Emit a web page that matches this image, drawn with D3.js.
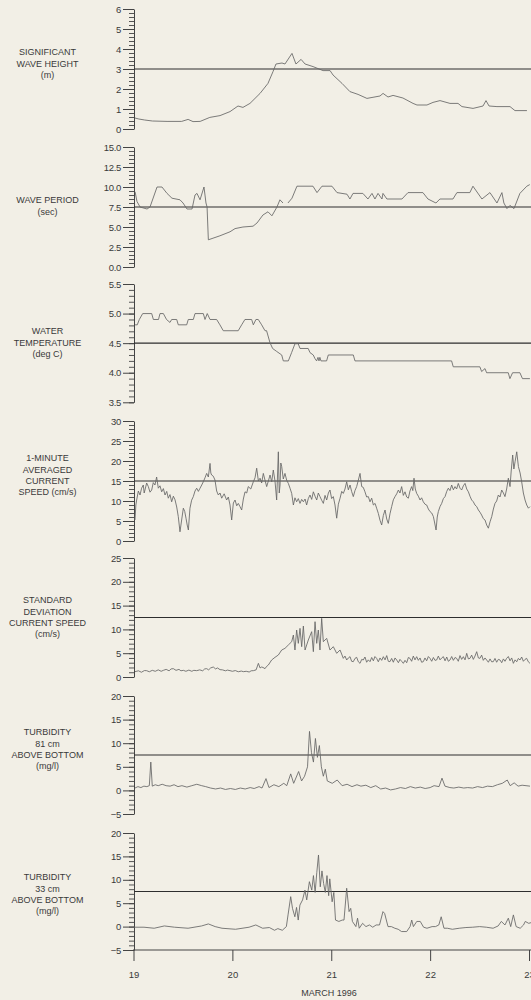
<!DOCTYPE html>
<html>
<head>
<meta charset="UTF-8">
<script src="https://cdnjs.cloudflare.com/ajax/libs/d3/7.8.5/d3.min.js"></script>
<style>
  body { margin: 0; background: #f2efe6; }
  svg { display: block; }
  text { font-family: "Liberation Sans", Arial, sans-serif; fill: #3a3a3a; }
</style>
</head>
<body>
<svg></svg>
<script>
var width = 531, height = 1000;

// ---- data: [day of March 1996, value]

var waveHeight = [[19.015,0.55],[19.054,0.5],[19.113,0.45],[19.192,0.4],[19.339,0.38],[19.487,0.38],[19.552,0.48],
  [19.602,0.37],[19.674,0.38],[19.772,0.58],[19.875,0.67],[19.976,0.87],[20.057,1.15],[20.107,1.08],[20.178,1.28],
  [20.28,1.78],[20.36,2.28],[20.411,2.87],[20.441,3.25],[20.502,3.3],[20.532,3.25],[20.603,3.78],[20.643,3.25],
  [20.695,3.48],[20.735,3.25],[20.816,3.12],[20.917,2.92],[20.988,2.92],[21.018,2.7],[21.109,2.28],[21.189,1.87],
  [21.271,1.73],[21.361,1.53],[21.493,1.65],[21.524,1.78],[21.574,1.6],[21.625,1.68],[21.725,1.55],[21.827,1.28],
  [21.867,1.2],[21.968,1.2],[22.029,1.33],[22.1,1.42],[22.201,1.28],[22.282,1.28],[22.322,1.12],[22.434,1.03],
  [22.535,1.15],[22.565,1.42],[22.596,1.15],[22.676,1.12],[22.808,1.12],[22.858,0.92],[22.979,0.92]];

var wavePeriod = [[19.016,9.4],[19.035,8.2],[19.066,7.5],[19.137,7.25],[19.167,7.5],[19.238,10.0],[19.288,10.0],
  [19.339,9.2],[19.389,8.6],[19.47,8.4],[19.501,8.0],[19.541,7.25],[19.592,7.25],[19.622,9.0],[19.642,9.2],[19.673,8.4],
  [19.713,10.0],[19.733,8.0],[19.744,7.5],[19.757,3.4],[19.804,3.6],[19.874,3.9],[19.976,4.4],[20.027,4.8],[20.107,5.0],
  [20.209,5.1],[20.249,5.5],[20.309,6.5],[20.36,6.9],[20.4,6.4],[20.451,7.5],[20.481,8.4],[20.512,8.0],[20.53,null],
  [20.562,8.0],[20.603,8.6],[20.653,10.1],[20.815,10.1],[20.856,9.3],[20.906,10.1],[21.007,10.1],[21.058,9.3],
  [21.159,9.1],[21.189,8.5],[21.22,9.2],[21.32,9.2],[21.371,8.5],[21.412,9.2],[21.442,8.5],[21.473,9.2],[21.513,8.5],
  [21.523,9.2],[21.563,8.5],[21.715,8.5],[21.776,9.3],[21.927,9.3],[21.978,8.5],[22.059,8.0],[22.099,8.5],[22.231,8.5],
  [22.271,9.3],[22.402,9.3],[22.433,10.1],[22.524,8.5],[22.605,9.3],[22.676,8.0],[22.726,9.3],[22.746,8.0],[22.777,7.3],
  [22.807,7.7],[22.848,7.3],[22.908,9.2],[22.978,10.1],[23.008,10.3]];

var waterTemp = [[19.016,4.81],[19.038,4.81],[19.059,4.9],[19.093,5.0],[19.184,5.0],[19.201,4.9],[19.253,4.9],
  [19.268,5.0],[19.302,5.0],[19.334,4.9],[19.369,4.85],[19.386,4.9],[19.437,4.9],[19.453,4.81],[19.538,4.81],
  [19.554,4.9],[19.605,4.9],[19.622,5.0],[19.706,5.0],[19.723,4.9],[19.746,5.0],[19.774,4.9],[19.841,4.9],[19.874,4.81],
  [19.908,4.71],[20.059,4.71],[20.094,4.81],[20.127,4.9],[20.195,4.9],[20.212,4.81],[20.238,4.9],[20.262,4.9],
  [20.296,4.81],[20.33,4.71],[20.346,4.71],[20.38,4.51],[20.407,4.41],[20.448,4.36],[20.499,4.3],[20.515,4.2],
  [20.566,4.2],[20.599,4.34],[20.633,4.49],[20.666,4.49],[20.684,4.41],[20.767,4.41],[20.785,4.34],[20.818,4.3],
  [20.835,4.24],[20.852,4.2],[20.866,4.26],[20.876,4.2],[20.885,4.26],[20.896,4.2],[20.953,4.2],[20.97,4.3],[21.223,4.3],
  [21.24,4.2],[22.217,4.2],[22.234,4.1],[22.503,4.1],[22.521,4.02],[22.555,4.07],[22.571,4.0],[22.79,4.0],[22.807,3.9],
  [22.834,4.0],[22.908,4.0],[22.934,3.9],[23.009,3.9]];

var currentSpeed = [[19.015,5.25],[19.024,9.0],[19.032,10.25],[19.049,12.5],[19.066,11.5],[19.082,13.2],[19.099,14],
  [19.108,12.0],[19.116,12.75],[19.133,14.5],[19.15,13.6],[19.167,12.2],[19.184,12.75],[19.2,14.6],[19.217,14],[19.234,16],
  [19.251,13.2],[19.268,13.8],[19.285,12.3],[19.302,13.1],[19.319,11.5],[19.336,12.4],[19.352,10.7],[19.369,11.6],
  [19.386,9.8],[19.403,11.2],[19.42,10.3],[19.437,8.5],[19.453,6.1],[19.47,2.3],[19.487,5.25],[19.504,8.2],[19.518,7.4],
  [19.531,5.7],[19.543,4.0],[19.555,2.75],[19.571,8.2],[19.588,10.2],[19.605,11.1],[19.622,12.5],[19.639,13.2],
  [19.656,12.4],[19.673,13.2],[19.69,14.0],[19.706,14.8],[19.723,15.8],[19.74,16.9],[19.757,16.0],[19.774,19.4],
  [19.782,17.0],[19.79,16.5],[19.807,16.2],[19.824,15.25],[19.841,12.5],[19.858,11.5],[19.875,12.0],[19.892,10.7],
  [19.917,11.8],[19.942,10.25],[19.959,11.0],[19.976,9],[19.993,5.25],[20.01,9.5],[20.027,10.25],[20.044,8.8],[20.06,9.4],
  [20.077,8.6],[20.094,7.75],[20.111,10.5],[20.128,12.3],[20.145,12.0],[20.161,13.6],[20.186,13.0],[20.212,14.8],
  [20.229,15.8],[20.246,18.2],[20.263,15.0],[20.28,15.7],[20.296,14.5],[20.313,16.9],[20.33,15.2],[20.347,13.6],
  [20.364,15.0],[20.381,16.5],[20.398,14.8],[20.414,17.75],[20.431,15.0],[20.448,10.25],[20.465,22.3],[20.474,12.0],
  [20.482,14],[20.49,19.5],[20.499,18.6],[20.515,15.5],[20.532,16.9],[20.549,15.2],[20.566,14.4],[20.583,13.2],[20.6,11.9],
  [20.617,9],[20.633,10.8],[20.65,9.8],[20.667,10.6],[20.684,9.4],[20.701,10.4],[20.718,9.8],[20.735,10.5],[20.751,9],
  [20.768,10.6],[20.785,11.5],[20.802,10.4],[20.819,12.3],[20.836,11.2],[20.853,10.25],[20.869,12.0],[20.886,11.1],
  [20.903,10.2],[20.92,9.4],[20.937,11.4],[20.954,10.25],[20.971,12.0],[20.987,12.75],[21.004,10.6],[21.021,11.1],
  [21.038,9.0],[21.055,5.7],[21.072,9.2],[21.089,10.7],[21.106,12.4],[21.122,11.9],[21.139,13.0],[21.156,14.8],
  [21.173,12.8],[21.19,14],[21.206,12.4],[21.223,11.1],[21.24,12.6],[21.257,13.6],[21.274,15.2],[21.291,16.9],[21.308,13.6],
  [21.324,13.4],[21.341,12.3],[21.358,11.0],[21.375,11.1],[21.392,9.8],[21.409,10.7],[21.426,9.0],[21.443,9.4],
  [21.459,8.2],[21.476,6.9],[21.493,5.2],[21.51,4],[21.527,6.4],[21.544,7.75],[21.561,5.5],[21.577,4.4],[21.594,6.8],
  [21.611,8.6],[21.628,10.3],[21.645,11.1],[21.662,11.8],[21.679,12.75],[21.695,12.0],[21.712,13.6],[21.729,11.4],
  [21.746,12.3],[21.763,11.0],[21.78,10.7],[21.796,12.5],[21.813,13.6],[21.825,12.6],[21.837,15.7],[21.85,13.0],
  [21.864,11.9],[21.881,11.2],[21.898,10.25],[21.914,10.8],[21.931,9.8],[21.948,9.2],[21.965,9],[21.982,8.0],[21.999,7.35],
  [22.016,7.0],[22.033,6.1],[22.046,4.5],[22.06,2.75],[22.072,6.0],[22.083,7.35],[22.1,8.6],[22.117,9.4],[22.134,10.6],
  [22.151,11.1],[22.168,12.4],[22.184,13.2],[22.201,12.6],[22.218,14],[22.235,12.8],[22.252,13.6],[22.268,13.0],
  [22.285,14.4],[22.302,13.2],[22.319,12.75],[22.336,13.8],[22.353,14.4],[22.37,13.0],[22.387,12.3],[22.403,11.2],
  [22.42,10.25],[22.437,9.8],[22.454,9],[22.471,8.6],[22.488,7.75],[22.504,7.2],[22.521,6.5],[22.538,5.6],[22.555,5.25],
  [22.572,4.0],[22.589,3.2],[22.606,4.8],[22.623,6.1],[22.64,8.0],[22.656,9.4],[22.673,10.0],[22.69,11.5],[22.707,11.0],
  [22.724,12.75],[22.741,12.0],[22.757,11.1],[22.774,13.0],[22.791,15.7],[22.808,13.6],[22.82,17.5],[22.835,21.5],
  [22.847,18.0],[22.859,19.8],[22.876,22.3],[22.893,18.6],[22.91,17.0],[22.926,14.8],[22.943,12.0],[22.96,10.25],
  [22.977,9.0],[22.994,8.2],[23.01,8.6]];

var speedStdDev = [[19.015,1.12],[19.05,1.3],[19.08,1.0],[19.11,1.35],[19.133,1.33],[19.16,1.1],[19.19,1.4],[19.22,1.2],
  [19.25,1.5],[19.28,1.2],[19.302,1.4],[19.33,1.6],[19.36,1.3],[19.38,1.7],[19.403,1.75],[19.43,1.4],[19.46,1.6],
  [19.48,1.3],[19.504,1.4],[19.53,1.2],[19.56,1.45],[19.59,1.2],[19.61,1.4],[19.639,1.33],[19.67,1.5],[19.7,1.3],
  [19.72,1.7],[19.74,1.75],[19.76,1.5],[19.78,1.9],[19.807,2.1],[19.83,1.7],[19.85,1.9],[19.875,1.54],[19.9,1.5],
  [19.93,1.3],[19.95,1.45],[19.976,1.33],[20.0,1.2],[20.03,1.35],[20.06,1.1],[20.09,1.25],[20.111,1.12],[20.14,1.2],
  [20.17,1.05],[20.19,1.3],[20.212,1.33],[20.24,1.5],[20.263,2.87],[20.28,1.9],[20.296,2.1],[20.31,2.0],[20.33,1.75],
  [20.345,2.2],[20.364,2.52],[20.397,3.57],[20.431,4.13],[20.465,4.62],[20.499,5.67],[20.532,6.02],[20.566,6.72],
  [20.6,7.42],[20.617,8.82],[20.633,5.67],[20.65,9.87],[20.667,7.07],[20.684,10.22],[20.701,6.37],[20.718,10.71],
  [20.735,5.67],[20.768,7.77],[20.802,9.52],[20.819,5.32],[20.836,11.62],[20.853,7.07],[20.869,9.87],[20.886,5.67],
  [20.903,12.32],[20.92,7.42],[20.954,8.12],[20.987,5.67],[21.021,6.37],[21.055,4.97],[21.089,5.67],[21.122,3.92],
  [21.139,4.4],[21.156,3.57],[21.173,4.0],[21.19,4.27],[21.206,3.3],[21.223,3.22],[21.24,3.9],[21.257,4.13],[21.274,3.2],
  [21.291,2.87],[21.308,3.7],[21.324,3.57],[21.341,4.2],[21.358,3.1],[21.375,3.6],[21.392,3.22],[21.409,4.1],[21.426,3.4],
  [21.442,4.3],[21.459,3.92],[21.476,3.2],[21.493,4.0],[21.51,3.5],[21.527,4.27],[21.544,3.6],[21.561,4.5],[21.577,3.3],
  [21.594,3.22],[21.611,3.9],[21.628,3.1],[21.645,4.0],[21.662,3.57],[21.679,3.0],[21.695,3.7],[21.712,3.3],[21.729,2.87],
  [21.746,3.5],[21.763,3.0],[21.78,4.1],[21.796,3.92],[21.813,3.3],[21.83,4.4],[21.847,3.6],[21.864,4.27],[21.881,3.5],
  [21.898,4.0],[21.914,3.1],[21.931,3.22],[21.948,4.0],[21.965,3.4],[21.982,4.3],[21.999,3.92],[22.016,3.3],[22.033,4.1],
  [22.049,3.5],[22.066,3.57],[22.083,4.4],[22.1,3.6],[22.117,4.0],[22.134,4.27],[22.151,3.4],[22.168,4.2],[22.184,3.3],
  [22.201,3.57],[22.218,4.3],[22.235,3.5],[22.252,4.1],[22.268,3.92],[22.285,3.3],[22.302,4.5],[22.319,3.7],[22.336,4.27],
  [22.353,3.6],[22.37,4.97],[22.387,3.8],[22.403,3.92],[22.42,4.6],[22.437,3.7],[22.454,4.4],[22.471,5.32],[22.488,4.0],
  [22.504,3.92],[22.521,4.6],[22.538,3.5],[22.555,4.0],[22.572,3.57],[22.589,3.1],[22.606,3.8],[22.622,3.2],[22.639,3.22],
  [22.656,3.9],[22.673,3.1],[22.69,3.7],[22.707,3.57],[22.724,3.0],[22.741,3.8],[22.757,3.3],[22.774,3.92],[22.791,4.3],
  [22.808,3.4],[22.825,4.0],[22.842,2.87],[22.859,3.6],[22.876,3.2],[22.892,3.9],[22.909,3.57],[22.926,4.2],[22.943,3.3],
  [22.96,3.7],[22.976,3.92],[22.993,3.2],[23.01,2.87]];

var turbidity81 = [[19.015,0.5],[19.045,0.8],[19.075,0.6],[19.105,0.9],[19.135,0.8],[19.16,1.0],[19.175,6.0],[19.19,0.9],
  [19.22,1.2],[19.25,1.0],[19.29,1.3],[19.33,1.0],[19.37,0.9],[19.41,1.2],[19.45,0.8],[19.49,1.0],[19.54,0.7],[19.59,1.0],
  [19.64,1.3],[19.69,1.0],[19.73,0.8],[19.78,0.5],[19.83,0.3],[19.88,0.5],[19.93,0.2],[19.98,0.4],[20.03,0.2],[20.08,0.5],
  [20.13,0.3],[20.18,0.6],[20.22,0.4],[20.27,0.8],[20.3,0.5],[20.34,2.5],[20.37,0.6],[20.42,1.2],[20.47,0.8],[20.52,1.5],
  [20.55,1.0],[20.59,3.5],[20.62,1.5],[20.67,4.0],[20.7,2.0],[20.73,3.0],[20.76,5.0],[20.78,12.5],[20.8,8.0],[20.82,6.0],
  [20.84,11.0],[20.86,7.0],[20.88,9.5],[20.9,5.0],[20.92,3.0],[20.94,4.5],[20.96,2.0],[21.01,1.5],[21.06,2.2],[21.11,1.0],
  [21.16,1.3],[21.21,0.8],[21.26,1.2],[21.3,0.9],[21.35,1.1],[21.4,0.6],[21.45,1.0],[21.5,0.3],[21.55,0.5],[21.6,0.1],
  [21.65,0.3],[21.7,0.6],[21.75,0.4],[21.8,0.8],[21.85,0.5],[21.9,0.7],[21.95,0.4],[22.0,0.6],[22.04,1.0],[22.09,0.8],
  [22.12,2.6],[22.15,0.9],[22.2,0.6],[22.24,0.5],[22.29,0.7],[22.34,0.5],[22.38,0.6],[22.43,0.5],[22.48,0.8],[22.53,0.6],
  [22.58,0.9],[22.63,0.8],[22.68,1.2],[22.73,1.5],[22.78,2.2],[22.81,1.0],[22.85,1.6],[22.89,0.9],[22.93,1.1],[23.01,0.9]];

var turbidity33 = [[19.0,-0.13],[19.106,-0.13],[19.209,-0.35],[19.312,0.14],[19.415,-0.13],[19.552,-0.35],[19.689,0.14],
  [19.757,0.57],[19.826,0],[19.895,-0.35],[20.032,-0.57],[20.169,-0.13],[20.237,0.35],[20.306,-0.35],[20.374,-0.2],
  [20.426,-0.78],[20.46,-0.43],[20.505,-0.78],[20.546,0],[20.563,2.5],[20.59,6.4],[20.608,3.9],[20.632,2.1],[20.649,4.1],
  [20.666,1.4],[20.683,4.6],[20.71,5.7],[20.734,7.8],[20.752,5.7],[20.779,9.6],[20.803,7.8],[20.82,10.9],[20.837,7.3],
  [20.854,11.6],[20.871,15.3],[20.889,8.5],[20.906,11.9],[20.923,9.2],[20.94,7.3],[20.957,10.9],[20.974,6.6],[20.985,10.2],
  [21.009,5.3],[21.026,7.3],[21.043,1.4],[21.077,1.1],[21.111,1.4],[21.129,1.4],[21.156,8.2],[21.18,3.2],[21.197,3.9],
  [21.214,1.1],[21.249,0],[21.266,1.8],[21.283,-0.35],[21.317,0.7],[21.351,0],[21.386,0.35],[21.42,-0.13],[21.454,0.35],
  [21.488,0.35],[21.523,3.2],[21.54,2.8],[21.574,0],[21.608,0],[21.643,-0.35],[21.677,-0.57],[21.711,-1.06],[21.763,-1.06],
  [21.797,0],[21.814,1.4],[21.831,0],[21.865,1.1],[21.9,1.1],[21.934,-0.13],[21.968,-0.35],[22.02,0],[22.054,0],
  [22.088,0.35],[22.112,2.1],[22.14,-0.35],[22.174,-0.35],[22.225,-0.57],[22.294,-0.35],[22.362,-0.2],[22.431,-0.13],
  [22.5,0],[22.568,-0.13],[22.637,-0.35],[22.688,0.14],[22.72,1.1],[22.757,0.35],[22.791,1.8],[22.815,0],[22.842,2.5],
  [22.87,0],[22.911,-0.35],[22.945,0.35],[22.962,1.1],[22.997,0.7],[23.03,0.9]];

var dayTicks = [19, 20, 21, 22, 23];

// ---- layout of the seven strips
var panels = [
  { data: waveHeight,   domain: [0, 6],     range: [129, 9],     major: 1,   minor: 0.2, fmt: "d",   ref: 3,
    title: ["SIGNIFICANT", "WAVE HEIGHT", "(m)"], titleY: 52 },
  { data: wavePeriod,   domain: [0, 15],    range: [267, 147],   major: 2.5, minor: 0.5, fmt: ".1f", ref: 7.5,
    title: ["WAVE PERIOD", "(sec)"], titleY: 200 },
  { data: waterTemp,    domain: [3.5, 5.5], range: [402.3, 284], major: 0.5, minor: 0.1, fmt: ".1f", ref: 4.5,
    title: ["WATER", "TEMPERATURE", "(deg C)"], titleY: 331 },
  { data: currentSpeed, domain: [0, 30],    range: [541, 421],   major: 5,   minor: 1,   fmt: "d",   ref: 15,
    title: ["1-MINUTE", "AVERAGED", "CURRENT", "SPEED (cm/s)"], titleY: 458 },
  { data: speedStdDev,  domain: [0, 25],    range: [677, 558],   major: 5,   minor: 1,   fmt: "d",   ref: 12.5,
    title: ["STANDARD", "DEVIATION", "CURRENT SPEED", "(cm/s)"], titleY: 600 },
  { data: turbidity81,  domain: [-5, 20],   range: [814, 696],   major: 5,   minor: 1,   fmt: "d",   ref: 7.5,
    title: ["TURBIDITY", "81 cm", "ABOVE BOTTOM", "(mg/l)"], titleY: 732 },
  { data: turbidity33,  domain: [-5, 20],   range: [950, 833],   major: 5,   minor: 1,   fmt: "d",   ref: 7.5,
    title: ["TURBIDITY", "33 cm", "ABOVE BOTTOM", "(mg/l)"], titleY: 877 }
];

var axisX = 134;

var svg = d3.select("svg").attr("width", width).attr("height", height);
svg.append("rect").attr("width", width).attr("height", height).attr("fill", "#f2efe6");

var x = d3.scaleLinear().domain([19, 23]).range([133.5, 529]);

function steps(lo, hi, st) {
  var n = Math.round((hi - lo) / st);
  return d3.range(n + 1).map(function (i) { return +(lo + i * st).toFixed(4); });
}

panels.forEach(function (p) {
  var y = d3.scaleLinear().domain(p.domain).range(p.range);
  var g = svg.append("g");

  // minor ticks
  g.append("g")
    .attr("transform", "translate(" + axisX + ",0)")
    .call(d3.axisLeft(y).tickValues(steps(p.domain[0], p.domain[1], p.minor)).tickSize(5).tickSizeOuter(0).tickFormat(""))
    .call(function (a) { a.select(".domain").remove(); a.selectAll("line").attr("stroke", "#555"); });

  // major ticks + labels
  var ax = g.append("g")
    .attr("transform", "translate(" + axisX + ",0)")
    .call(d3.axisLeft(y).tickValues(steps(p.domain[0], p.domain[1], p.major)).tickSize(11).tickSizeOuter(0)
      .tickPadding(2).tickFormat(d3.format(p.fmt)));
  ax.select(".domain").attr("stroke", "#444");
  ax.selectAll("line").attr("stroke", "#444");
  ax.selectAll("text").attr("fill", "#3a3a3a").style("font-size", "9.5px").style("letter-spacing", "-0.3px")
    .style("font-family", "'Liberation Sans', Arial, sans-serif");

  // reference level
  g.append("line")
    .attr("x1", axisX).attr("x2", width)
    .attr("y1", y(p.ref)).attr("y2", y(p.ref))
    .attr("stroke", "#2e2e2e").attr("stroke-width", 1.1);

  // series
  var line = d3.line()
    .defined(function (d) { return d[1] != null; })
    .x(function (d) { return x(d[0]); })
    .y(function (d) { return y(d[1]); });
  g.append("path").datum(p.data)
    .attr("d", line)
    .attr("fill", "none")
    .attr("stroke", "#666")
    .attr("stroke-width", 0.85);

  // title at left
  g.append("text")
    .attr("x", 47.5)
    .attr("y", p.titleY + 3.3)
    .attr("text-anchor", "middle")
    .style("font-size", "9px")
    .selectAll("tspan").data(p.title).enter().append("tspan")
    .attr("x", 47.5)
    .attr("dy", function (d, i) { return i ? 11.3 : 0; })
    .text(function (d) { return d; });
});

// time axis along the bottom strip
var bottom = 950;
svg.append("line").attr("x1", 133).attr("x2", width).attr("y1", bottom).attr("y2", bottom)
  .attr("stroke", "#444").attr("stroke-width", 1);
var xa = svg.append("g")
  .attr("transform", "translate(0," + bottom + ")")
  .call(d3.axisBottom(x).tickValues(dayTicks).tickSize(11).tickSizeOuter(0).tickPadding(10).tickFormat(d3.format("d")));
xa.select(".domain").remove();
xa.selectAll("line").attr("stroke", "#444");
xa.selectAll("text").attr("fill", "#3a3a3a").style("font-size", "9.5px")
  .style("font-family", "'Liberation Sans', Arial, sans-serif");

svg.append("text")
  .attr("x", 329).attr("y", 996)
  .attr("text-anchor", "middle")
  .style("font-size", "9px")
  .text("MARCH 1996");
</script>
</body>
</html>
